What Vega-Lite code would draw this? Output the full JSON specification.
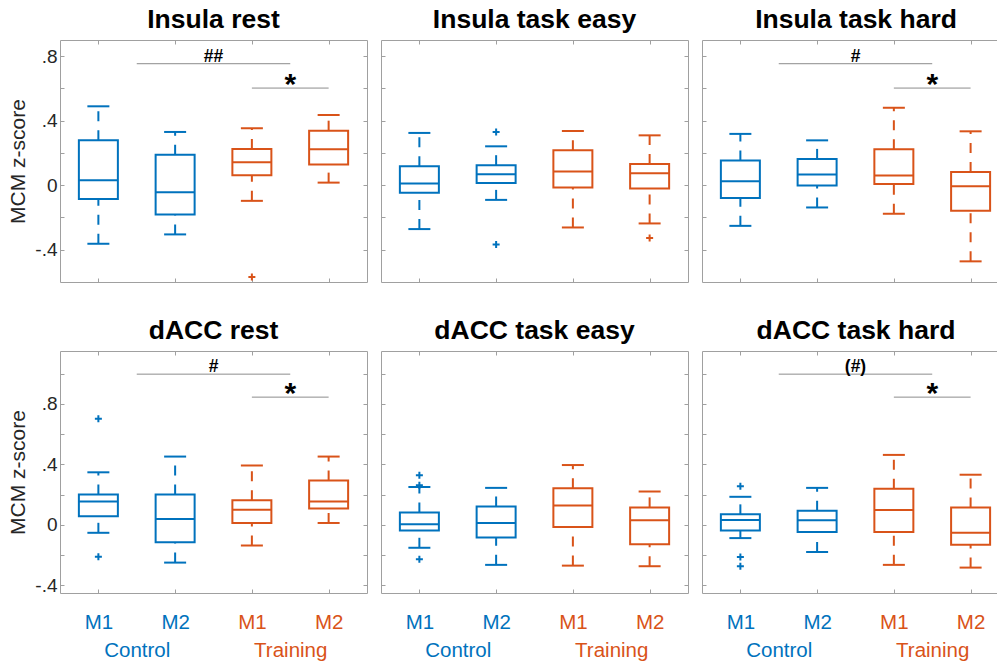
{
"$schema": "https://vega.github.io/schema/vega-lite/v6.json",
"padding": {"left": 7, "top": 6, "right": 0, "bottom": 0},
"background": "white",
"datasets": {
"boxes": [
{"panel":"Insula rest","group":"Control","tp":"M1","idx":1,"lo":-0.363,"q1":-0.085,"med":0.031,"q3":0.278,"hi":0.489},
{"panel":"Insula rest","group":"Control","tp":"M2","idx":2,"lo":-0.305,"q1":-0.181,"med":-0.043,"q3":0.188,"hi":0.330},
{"panel":"Insula rest","group":"Training","tp":"M1","idx":3,"lo":-0.097,"q1":0.062,"med":0.142,"q3":0.225,"hi":0.353},
{"panel":"Insula rest","group":"Training","tp":"M2","idx":4,"lo":0.016,"q1":0.128,"med":0.223,"q3":0.338,"hi":0.435},
{"panel":"Insula task easy","group":"Control","tp":"M1","idx":1,"lo":-0.272,"q1":-0.047,"med":0.010,"q3":0.118,"hi":0.324},
{"panel":"Insula task easy","group":"Control","tp":"M2","idx":2,"lo":-0.091,"q1":0.014,"med":0.068,"q3":0.124,"hi":0.241},
{"panel":"Insula task easy","group":"Training","tp":"M1","idx":3,"lo":-0.262,"q1":-0.014,"med":0.085,"q3":0.216,"hi":0.336},
{"panel":"Insula task easy","group":"Training","tp":"M2","idx":4,"lo":-0.237,"q1":-0.021,"med":0.074,"q3":0.132,"hi":0.309},
{"panel":"Insula task hard","group":"Control","tp":"M1","idx":1,"lo":-0.252,"q1":-0.080,"med":0.025,"q3":0.153,"hi":0.318},
{"panel":"Insula task hard","group":"Control","tp":"M2","idx":2,"lo":-0.138,"q1":-0.002,"med":0.066,"q3":0.163,"hi":0.278},
{"panel":"Insula task hard","group":"Training","tp":"M1","idx":3,"lo":-0.177,"q1":0.008,"med":0.060,"q3":0.223,"hi":0.480},
{"panel":"Insula task hard","group":"Training","tp":"M2","idx":4,"lo":-0.472,"q1":-0.159,"med":-0.006,"q3":0.082,"hi":0.334},
{"panel":"dACC rest","group":"Control","tp":"M1","idx":1,"lo":-0.052,"q1":0.057,"med":0.155,"q3":0.201,"hi":0.348},
{"panel":"dACC rest","group":"Control","tp":"M2","idx":2,"lo":-0.249,"q1":-0.114,"med":0.039,"q3":0.201,"hi":0.452},
{"panel":"dACC rest","group":"Training","tp":"M1","idx":3,"lo":-0.136,"q1":0.013,"med":0.101,"q3":0.164,"hi":0.393},
{"panel":"dACC rest","group":"Training","tp":"M2","idx":4,"lo":0.013,"q1":0.109,"med":0.155,"q3":0.293,"hi":0.452},
{"panel":"dACC task easy","group":"Control","tp":"M1","idx":1,"lo":-0.151,"q1":-0.037,"med":0.004,"q3":0.083,"hi":0.251},
{"panel":"dACC task easy","group":"Control","tp":"M2","idx":2,"lo":-0.264,"q1":-0.083,"med":0.013,"q3":0.122,"hi":0.245},
{"panel":"dACC task easy","group":"Training","tp":"M1","idx":3,"lo":-0.269,"q1":-0.013,"med":0.129,"q3":0.243,"hi":0.396},
{"panel":"dACC task easy","group":"Training","tp":"M2","idx":4,"lo":-0.273,"q1":-0.127,"med":0.031,"q3":0.116,"hi":0.221},
{"panel":"dACC task hard","group":"Control","tp":"M1","idx":1,"lo":-0.087,"q1":-0.037,"med":0.033,"q3":0.070,"hi":0.186},
{"panel":"dACC task hard","group":"Control","tp":"M2","idx":2,"lo":-0.179,"q1":-0.046,"med":0.031,"q3":0.094,"hi":0.245},
{"panel":"dACC task hard","group":"Training","tp":"M1","idx":3,"lo":-0.264,"q1":-0.046,"med":0.098,"q3":0.240,"hi":0.463},
{"panel":"dACC task hard","group":"Training","tp":"M2","idx":4,"lo":-0.282,"q1":-0.131,"med":-0.052,"q3":0.116,"hi":0.332}
],
"outliers": [
{"panel":"Insula rest","group":"Training","idx":3,"value":-0.569},
{"panel":"Insula task easy","group":"Control","idx":2,"value":0.330},
{"panel":"Insula task easy","group":"Control","idx":2,"value":-0.367},
{"panel":"Insula task easy","group":"Training","idx":4,"value":-0.328},
{"panel":"dACC rest","group":"Control","idx":1,"value":0.702},
{"panel":"dACC rest","group":"Control","idx":1,"value":-0.210},
{"panel":"dACC task easy","group":"Control","idx":1,"value":0.328},
{"panel":"dACC task easy","group":"Control","idx":1,"value":0.262},
{"panel":"dACC task easy","group":"Control","idx":1,"value":-0.227},
{"panel":"dACC task hard","group":"Control","idx":1,"value":0.256},
{"panel":"dACC task hard","group":"Control","idx":1,"value":-0.212},
{"panel":"dACC task hard","group":"Control","idx":1,"value":-0.273}
],
"sig": [
{"panel":"Insula rest","from":1.5,"to":3.5,"mid":2.5,"level":0.753,"label":"##"},
{"panel":"Insula rest","from":3,"to":4,"mid":3.5,"level":0.602,"label":"*"},
{"panel":"Insula task hard","from":1.5,"to":3.5,"mid":2.5,"level":0.753,"label":"#"},
{"panel":"Insula task hard","from":3,"to":4,"mid":3.5,"level":0.602,"label":"*"},
{"panel":"dACC rest","from":1.5,"to":3.5,"mid":2.5,"level":0.997,"label":"#"},
{"panel":"dACC rest","from":3,"to":4,"mid":3.5,"level":0.845,"label":"*"},
{"panel":"dACC task hard","from":1.5,"to":3.5,"mid":2.5,"level":0.997,"label":"(#)"},
{"panel":"dACC task hard","from":3,"to":4,"mid":3.5,"level":0.845,"label":"*"}
]
},
"spacing": 32,
"vconcat": [
{"spacing": 12, "hconcat": [
{"width":307,"height":242,"title":"Insula rest","resolve":{"axis":{"x":"independent","y":"independent"}},
"layer":[
{"data":{"name":"boxes"},"transform":[{"filter":"datum.panel == 'Insula rest'"}],"mark":{"type":"bar","orient":"vertical","width":39,"filled":false,"strokeWidth":2},
"encoding":{"x":{"field":"idx","type":"quantitative","scale":{"domain":[0.5,4.5],"nice":false,"zero":false,"padding":0},"axis":{"orient":"bottom","values":[1,2,3,4],"labels":false,"tickSize":-4,"title":null}},
"y":{"field":"q1","type":"quantitative","scale":{"domain":[-0.6,0.9],"nice":false,"zero":false},"axis":{"orient":"left","values":[-0.4,-0.2,0,0.2,0.4,0.6,0.8],"labelExpr":"round(datum.value*10) == 8 ? '.8' : round(datum.value*10) == 4 ? '.4' : round(datum.value*10) == 0 ? '0' : round(datum.value*10) == -4 ? '-.4' : ''","labelFontSize":19,"labelPadding":7,"labelOverlap":false,"tickSize":-4,"title":"MCM z-score","titleFontSize":21,"titlePadding":6}},
"y2":{"field":"q3"},
"color":{"field":"group","type":"nominal","scale":{"domain":["Control","Training"],"range":["#0072BD","#D95319"]},"legend":null}}},
{"data":{"name":"boxes"},"transform":[{"filter":"datum.panel == 'Insula rest'"}],"mark":{"type":"tick","orient":"horizontal","size":39,"thickness":2,"opacity":1},
"encoding":{"x":{"field":"idx","type":"quantitative","axis":{"orient":"top","values":[1,2,3,4],"labels":false,"tickSize":-4,"title":null}},
"y":{"field":"med","type":"quantitative","axis":{"orient":"right","values":[-0.4,-0.2,0,0.2,0.4,0.6,0.8],"labels":false,"tickSize":-4,"title":null}},
"color":{"field":"group","type":"nominal","legend":null}}},
{"data":{"name":"boxes"},"transform":[{"filter":"datum.panel == 'Insula rest'"}],"mark":{"type":"rule","strokeDash":[10,9],"strokeWidth":2},
"encoding":{"x":{"field":"idx","type":"quantitative","axis":null},"y":{"field":"q3","type":"quantitative","axis":null},"y2":{"field":"hi"},"color":{"field":"group","type":"nominal","legend":null}}},
{"data":{"name":"boxes"},"transform":[{"filter":"datum.panel == 'Insula rest'"}],"mark":{"type":"rule","strokeDash":[10,9],"strokeWidth":2},
"encoding":{"x":{"field":"idx","type":"quantitative","axis":null},"y":{"field":"lo","type":"quantitative","axis":null},"y2":{"field":"q1"},"color":{"field":"group","type":"nominal","legend":null}}},
{"data":{"name":"boxes"},"transform":[{"filter":"datum.panel == 'Insula rest'"}],"mark":{"type":"tick","orient":"horizontal","size":22,"thickness":2,"opacity":1},
"encoding":{"x":{"field":"idx","type":"quantitative","axis":null},"y":{"field":"hi","type":"quantitative","axis":null},"color":{"field":"group","type":"nominal","legend":null}}},
{"data":{"name":"boxes"},"transform":[{"filter":"datum.panel == 'Insula rest'"}],"mark":{"type":"tick","orient":"horizontal","size":22,"thickness":2,"opacity":1},
"encoding":{"x":{"field":"idx","type":"quantitative","axis":null},"y":{"field":"lo","type":"quantitative","axis":null},"color":{"field":"group","type":"nominal","legend":null}}},
{"data":{"name":"outliers"},"transform":[{"filter":"datum.panel == 'Insula rest'"}],"mark":{"type":"point","shape":"M-1,0H1M0,-1V1","size":49,"filled":false,"strokeWidth":2,"opacity":1},
"encoding":{"x":{"field":"idx","type":"quantitative","axis":null},"y":{"field":"value","type":"quantitative","axis":null},"color":{"field":"group","type":"nominal","legend":null}}},
{"data":{"name":"sig"},"transform":[{"filter":"datum.panel == 'Insula rest'"}],"mark":{"type":"rule","color":"#8c8c8c","strokeWidth":1},
"encoding":{"x":{"field":"from","type":"quantitative","axis":null},"x2":{"field":"to"},"y":{"field":"level","type":"quantitative","axis":null}}},
{"data":{"name":"sig"},"transform":[{"filter":"datum.panel == 'Insula rest' && datum.label == '*'"}],"mark":{"type":"text","fontSize":30,"fontWeight":"bold","baseline":"alphabetic","dy":6,"color":"#000000"},
"encoding":{"x":{"field":"mid","type":"quantitative","axis":null},"y":{"field":"level","type":"quantitative","axis":null},"text":{"field":"label"}}},
{"data":{"name":"sig"},"transform":[{"filter":"datum.panel == 'Insula rest' && datum.label != '*'"}],"mark":{"type":"text","fontSize":17.5,"fontWeight":"bold","baseline":"alphabetic","dy":-2,"color":"#000000"},
"encoding":{"x":{"field":"mid","type":"quantitative","axis":null},"y":{"field":"level","type":"quantitative","axis":null},"text":{"field":"label"}}}
]},
{"width":307,"height":242,"title":"Insula task easy","resolve":{"axis":{"x":"independent","y":"independent"}},
"layer":[
{"data":{"name":"boxes"},"transform":[{"filter":"datum.panel == 'Insula task easy'"}],"mark":{"type":"bar","orient":"vertical","width":39,"filled":false,"strokeWidth":2},
"encoding":{"x":{"field":"idx","type":"quantitative","scale":{"domain":[0.5,4.5],"nice":false,"zero":false,"padding":0},"axis":{"orient":"bottom","values":[1,2,3,4],"labels":false,"tickSize":-4,"title":null}},
"y":{"field":"q1","type":"quantitative","scale":{"domain":[-0.6,0.9],"nice":false,"zero":false},"axis":{"orient":"left","values":[-0.4,-0.2,0,0.2,0.4,0.6,0.8],"labels":false,"tickSize":-4,"title":null}},
"y2":{"field":"q3"},
"color":{"field":"group","type":"nominal","scale":{"domain":["Control","Training"],"range":["#0072BD","#D95319"]},"legend":null}}},
{"data":{"name":"boxes"},"transform":[{"filter":"datum.panel == 'Insula task easy'"}],"mark":{"type":"tick","orient":"horizontal","size":39,"thickness":2,"opacity":1},
"encoding":{"x":{"field":"idx","type":"quantitative","axis":{"orient":"top","values":[1,2,3,4],"labels":false,"tickSize":-4,"title":null}},
"y":{"field":"med","type":"quantitative","axis":{"orient":"right","values":[-0.4,-0.2,0,0.2,0.4,0.6,0.8],"labels":false,"tickSize":-4,"title":null}},
"color":{"field":"group","type":"nominal","legend":null}}},
{"data":{"name":"boxes"},"transform":[{"filter":"datum.panel == 'Insula task easy'"}],"mark":{"type":"rule","strokeDash":[10,9],"strokeWidth":2},
"encoding":{"x":{"field":"idx","type":"quantitative","axis":null},"y":{"field":"q3","type":"quantitative","axis":null},"y2":{"field":"hi"},"color":{"field":"group","type":"nominal","legend":null}}},
{"data":{"name":"boxes"},"transform":[{"filter":"datum.panel == 'Insula task easy'"}],"mark":{"type":"rule","strokeDash":[10,9],"strokeWidth":2},
"encoding":{"x":{"field":"idx","type":"quantitative","axis":null},"y":{"field":"lo","type":"quantitative","axis":null},"y2":{"field":"q1"},"color":{"field":"group","type":"nominal","legend":null}}},
{"data":{"name":"boxes"},"transform":[{"filter":"datum.panel == 'Insula task easy'"}],"mark":{"type":"tick","orient":"horizontal","size":22,"thickness":2,"opacity":1},
"encoding":{"x":{"field":"idx","type":"quantitative","axis":null},"y":{"field":"hi","type":"quantitative","axis":null},"color":{"field":"group","type":"nominal","legend":null}}},
{"data":{"name":"boxes"},"transform":[{"filter":"datum.panel == 'Insula task easy'"}],"mark":{"type":"tick","orient":"horizontal","size":22,"thickness":2,"opacity":1},
"encoding":{"x":{"field":"idx","type":"quantitative","axis":null},"y":{"field":"lo","type":"quantitative","axis":null},"color":{"field":"group","type":"nominal","legend":null}}},
{"data":{"name":"outliers"},"transform":[{"filter":"datum.panel == 'Insula task easy'"}],"mark":{"type":"point","shape":"M-1,0H1M0,-1V1","size":49,"filled":false,"strokeWidth":2,"opacity":1},
"encoding":{"x":{"field":"idx","type":"quantitative","axis":null},"y":{"field":"value","type":"quantitative","axis":null},"color":{"field":"group","type":"nominal","legend":null}}}
]},
{"width":296,"height":242,"title":{"text":"Insula task hard","dx":6},"resolve":{"axis":{"x":"independent","y":"independent"}},
"layer":[
{"data":{"name":"boxes"},"transform":[{"filter":"datum.panel == 'Insula task hard'"}],"mark":{"type":"bar","orient":"vertical","width":39,"filled":false,"strokeWidth":2},
"encoding":{"x":{"field":"idx","type":"quantitative","scale":{"domain":[0.5,4.357],"nice":false,"zero":false,"padding":0},"axis":{"orient":"bottom","values":[1,2,3,4],"labels":false,"tickSize":-4,"title":null}},
"y":{"field":"q1","type":"quantitative","scale":{"domain":[-0.6,0.9],"nice":false,"zero":false},"axis":{"orient":"left","values":[-0.4,-0.2,0,0.2,0.4,0.6,0.8],"labels":false,"tickSize":-4,"title":null}},
"y2":{"field":"q3"},
"color":{"field":"group","type":"nominal","scale":{"domain":["Control","Training"],"range":["#0072BD","#D95319"]},"legend":null}}},
{"data":{"name":"boxes"},"transform":[{"filter":"datum.panel == 'Insula task hard'"}],"mark":{"type":"tick","orient":"horizontal","size":39,"thickness":2,"opacity":1},
"encoding":{"x":{"field":"idx","type":"quantitative","axis":{"orient":"top","values":[1,2,3,4],"labels":false,"tickSize":-4,"title":null}},
"y":{"field":"med","type":"quantitative","axis":null},
"color":{"field":"group","type":"nominal","legend":null}}},
{"data":{"name":"boxes"},"transform":[{"filter":"datum.panel == 'Insula task hard'"}],"mark":{"type":"rule","strokeDash":[10,9],"strokeWidth":2},
"encoding":{"x":{"field":"idx","type":"quantitative","axis":null},"y":{"field":"q3","type":"quantitative","axis":null},"y2":{"field":"hi"},"color":{"field":"group","type":"nominal","legend":null}}},
{"data":{"name":"boxes"},"transform":[{"filter":"datum.panel == 'Insula task hard'"}],"mark":{"type":"rule","strokeDash":[10,9],"strokeWidth":2},
"encoding":{"x":{"field":"idx","type":"quantitative","axis":null},"y":{"field":"lo","type":"quantitative","axis":null},"y2":{"field":"q1"},"color":{"field":"group","type":"nominal","legend":null}}},
{"data":{"name":"boxes"},"transform":[{"filter":"datum.panel == 'Insula task hard'"}],"mark":{"type":"tick","orient":"horizontal","size":22,"thickness":2,"opacity":1},
"encoding":{"x":{"field":"idx","type":"quantitative","axis":null},"y":{"field":"hi","type":"quantitative","axis":null},"color":{"field":"group","type":"nominal","legend":null}}},
{"data":{"name":"boxes"},"transform":[{"filter":"datum.panel == 'Insula task hard'"}],"mark":{"type":"tick","orient":"horizontal","size":22,"thickness":2,"opacity":1},
"encoding":{"x":{"field":"idx","type":"quantitative","axis":null},"y":{"field":"lo","type":"quantitative","axis":null},"color":{"field":"group","type":"nominal","legend":null}}},
{"data":{"name":"sig"},"transform":[{"filter":"datum.panel == 'Insula task hard'"}],"mark":{"type":"rule","color":"#8c8c8c","strokeWidth":1},
"encoding":{"x":{"field":"from","type":"quantitative","axis":null},"x2":{"field":"to"},"y":{"field":"level","type":"quantitative","axis":null}}},
{"data":{"name":"sig"},"transform":[{"filter":"datum.panel == 'Insula task hard' && datum.label == '*'"}],"mark":{"type":"text","fontSize":30,"fontWeight":"bold","baseline":"alphabetic","dy":6,"color":"#000000"},
"encoding":{"x":{"field":"mid","type":"quantitative","axis":null},"y":{"field":"level","type":"quantitative","axis":null},"text":{"field":"label"}}},
{"data":{"name":"sig"},"transform":[{"filter":"datum.panel == 'Insula task hard' && datum.label != '*'"}],"mark":{"type":"text","fontSize":17.5,"fontWeight":"bold","baseline":"alphabetic","dy":-2,"color":"#000000"},
"encoding":{"x":{"field":"mid","type":"quantitative","axis":null},"y":{"field":"level","type":"quantitative","axis":null},"text":{"field":"label"}}}
]}
]},
{"spacing": 12, "hconcat": [
{"width":307,"height":242,"title":"dACC rest","resolve":{"axis":{"x":"independent","y":"independent"}},
"layer":[
{"data":{"name":"boxes"},"transform":[{"filter":"datum.panel == 'dACC rest'"}],"mark":{"type":"bar","orient":"vertical","width":39,"filled":false,"strokeWidth":2},
"encoding":{"x":{"field":"idx","type":"quantitative","scale":{"domain":[0.5,4.5],"nice":false,"zero":false,"padding":0},"axis":{"orient":"bottom","values":[1,1.5,2,3,3.5,4],"labelExpr":"datum.value == 1.5 ? ['', 'Control'] : datum.value == 3.5 ? ['', 'Training'] : (datum.value == 1 || datum.value == 3) ? 'M1' : 'M2'","labelColor":{"condition":{"test":"datum.value < 2.5","value":"#0072BD"},"value":"#D95319"},"tickOpacity":{"condition":{"test":"datum.value == 1.5 || datum.value == 3.5","value":0},"value":1},"labelFontSize":20.5,"labelLineHeight":28,"labelPadding":23,"labelOverlap":false,"labelFlush":false,"tickSize":-4,"title":null}},
"y":{"field":"q1","type":"quantitative","scale":{"domain":[-0.45,1.15],"nice":false,"zero":false},"axis":{"orient":"left","values":[-0.4,-0.2,0,0.2,0.4,0.6,0.8,1.0],"labelExpr":"round(datum.value*10) == 8 ? '.8' : round(datum.value*10) == 4 ? '.4' : round(datum.value*10) == 0 ? '0' : round(datum.value*10) == -4 ? '-.4' : ''","labelFontSize":19,"labelPadding":7,"labelOverlap":false,"tickSize":-4,"title":"MCM z-score","titleFontSize":21,"titlePadding":6}},
"y2":{"field":"q3"},
"color":{"field":"group","type":"nominal","scale":{"domain":["Control","Training"],"range":["#0072BD","#D95319"]},"legend":null}}},
{"data":{"name":"boxes"},"transform":[{"filter":"datum.panel == 'dACC rest'"}],"mark":{"type":"tick","orient":"horizontal","size":39,"thickness":2,"opacity":1},
"encoding":{"x":{"field":"idx","type":"quantitative","axis":{"orient":"top","values":[1,2,3,4],"labels":false,"tickSize":-4,"title":null}},
"y":{"field":"med","type":"quantitative","axis":{"orient":"right","values":[-0.4,-0.2,0,0.2,0.4,0.6,0.8,1.0],"labels":false,"tickSize":-4,"title":null}},
"color":{"field":"group","type":"nominal","legend":null}}},
{"data":{"name":"boxes"},"transform":[{"filter":"datum.panel == 'dACC rest'"}],"mark":{"type":"rule","strokeDash":[10,9],"strokeWidth":2},
"encoding":{"x":{"field":"idx","type":"quantitative","axis":null},"y":{"field":"q3","type":"quantitative","axis":null},"y2":{"field":"hi"},"color":{"field":"group","type":"nominal","legend":null}}},
{"data":{"name":"boxes"},"transform":[{"filter":"datum.panel == 'dACC rest'"}],"mark":{"type":"rule","strokeDash":[10,9],"strokeWidth":2},
"encoding":{"x":{"field":"idx","type":"quantitative","axis":null},"y":{"field":"lo","type":"quantitative","axis":null},"y2":{"field":"q1"},"color":{"field":"group","type":"nominal","legend":null}}},
{"data":{"name":"boxes"},"transform":[{"filter":"datum.panel == 'dACC rest'"}],"mark":{"type":"tick","orient":"horizontal","size":22,"thickness":2,"opacity":1},
"encoding":{"x":{"field":"idx","type":"quantitative","axis":null},"y":{"field":"hi","type":"quantitative","axis":null},"color":{"field":"group","type":"nominal","legend":null}}},
{"data":{"name":"boxes"},"transform":[{"filter":"datum.panel == 'dACC rest'"}],"mark":{"type":"tick","orient":"horizontal","size":22,"thickness":2,"opacity":1},
"encoding":{"x":{"field":"idx","type":"quantitative","axis":null},"y":{"field":"lo","type":"quantitative","axis":null},"color":{"field":"group","type":"nominal","legend":null}}},
{"data":{"name":"outliers"},"transform":[{"filter":"datum.panel == 'dACC rest'"}],"mark":{"type":"point","shape":"M-1,0H1M0,-1V1","size":49,"filled":false,"strokeWidth":2,"opacity":1},
"encoding":{"x":{"field":"idx","type":"quantitative","axis":null},"y":{"field":"value","type":"quantitative","axis":null},"color":{"field":"group","type":"nominal","legend":null}}},
{"data":{"name":"sig"},"transform":[{"filter":"datum.panel == 'dACC rest'"}],"mark":{"type":"rule","color":"#8c8c8c","strokeWidth":1},
"encoding":{"x":{"field":"from","type":"quantitative","axis":null},"x2":{"field":"to"},"y":{"field":"level","type":"quantitative","axis":null}}},
{"data":{"name":"sig"},"transform":[{"filter":"datum.panel == 'dACC rest' && datum.label == '*'"}],"mark":{"type":"text","fontSize":30,"fontWeight":"bold","baseline":"alphabetic","dy":6,"color":"#000000"},
"encoding":{"x":{"field":"mid","type":"quantitative","axis":null},"y":{"field":"level","type":"quantitative","axis":null},"text":{"field":"label"}}},
{"data":{"name":"sig"},"transform":[{"filter":"datum.panel == 'dACC rest' && datum.label != '*'"}],"mark":{"type":"text","fontSize":17.5,"fontWeight":"bold","baseline":"alphabetic","dy":-2,"color":"#000000"},
"encoding":{"x":{"field":"mid","type":"quantitative","axis":null},"y":{"field":"level","type":"quantitative","axis":null},"text":{"field":"label"}}}
]},
{"width":307,"height":242,"title":"dACC task easy","resolve":{"axis":{"x":"independent","y":"independent"}},
"layer":[
{"data":{"name":"boxes"},"transform":[{"filter":"datum.panel == 'dACC task easy'"}],"mark":{"type":"bar","orient":"vertical","width":39,"filled":false,"strokeWidth":2},
"encoding":{"x":{"field":"idx","type":"quantitative","scale":{"domain":[0.5,4.5],"nice":false,"zero":false,"padding":0},"axis":{"orient":"bottom","values":[1,1.5,2,3,3.5,4],"labelExpr":"datum.value == 1.5 ? ['', 'Control'] : datum.value == 3.5 ? ['', 'Training'] : (datum.value == 1 || datum.value == 3) ? 'M1' : 'M2'","labelColor":{"condition":{"test":"datum.value < 2.5","value":"#0072BD"},"value":"#D95319"},"tickOpacity":{"condition":{"test":"datum.value == 1.5 || datum.value == 3.5","value":0},"value":1},"labelFontSize":20.5,"labelLineHeight":28,"labelPadding":23,"labelOverlap":false,"labelFlush":false,"tickSize":-4,"title":null}},
"y":{"field":"q1","type":"quantitative","scale":{"domain":[-0.45,1.15],"nice":false,"zero":false},"axis":{"orient":"left","values":[-0.4,-0.2,0,0.2,0.4,0.6,0.8,1.0],"labels":false,"tickSize":-4,"title":null}},
"y2":{"field":"q3"},
"color":{"field":"group","type":"nominal","scale":{"domain":["Control","Training"],"range":["#0072BD","#D95319"]},"legend":null}}},
{"data":{"name":"boxes"},"transform":[{"filter":"datum.panel == 'dACC task easy'"}],"mark":{"type":"tick","orient":"horizontal","size":39,"thickness":2,"opacity":1},
"encoding":{"x":{"field":"idx","type":"quantitative","axis":{"orient":"top","values":[1,2,3,4],"labels":false,"tickSize":-4,"title":null}},
"y":{"field":"med","type":"quantitative","axis":{"orient":"right","values":[-0.4,-0.2,0,0.2,0.4,0.6,0.8,1.0],"labels":false,"tickSize":-4,"title":null}},
"color":{"field":"group","type":"nominal","legend":null}}},
{"data":{"name":"boxes"},"transform":[{"filter":"datum.panel == 'dACC task easy'"}],"mark":{"type":"rule","strokeDash":[10,9],"strokeWidth":2},
"encoding":{"x":{"field":"idx","type":"quantitative","axis":null},"y":{"field":"q3","type":"quantitative","axis":null},"y2":{"field":"hi"},"color":{"field":"group","type":"nominal","legend":null}}},
{"data":{"name":"boxes"},"transform":[{"filter":"datum.panel == 'dACC task easy'"}],"mark":{"type":"rule","strokeDash":[10,9],"strokeWidth":2},
"encoding":{"x":{"field":"idx","type":"quantitative","axis":null},"y":{"field":"lo","type":"quantitative","axis":null},"y2":{"field":"q1"},"color":{"field":"group","type":"nominal","legend":null}}},
{"data":{"name":"boxes"},"transform":[{"filter":"datum.panel == 'dACC task easy'"}],"mark":{"type":"tick","orient":"horizontal","size":22,"thickness":2,"opacity":1},
"encoding":{"x":{"field":"idx","type":"quantitative","axis":null},"y":{"field":"hi","type":"quantitative","axis":null},"color":{"field":"group","type":"nominal","legend":null}}},
{"data":{"name":"boxes"},"transform":[{"filter":"datum.panel == 'dACC task easy'"}],"mark":{"type":"tick","orient":"horizontal","size":22,"thickness":2,"opacity":1},
"encoding":{"x":{"field":"idx","type":"quantitative","axis":null},"y":{"field":"lo","type":"quantitative","axis":null},"color":{"field":"group","type":"nominal","legend":null}}},
{"data":{"name":"outliers"},"transform":[{"filter":"datum.panel == 'dACC task easy'"}],"mark":{"type":"point","shape":"M-1,0H1M0,-1V1","size":49,"filled":false,"strokeWidth":2,"opacity":1},
"encoding":{"x":{"field":"idx","type":"quantitative","axis":null},"y":{"field":"value","type":"quantitative","axis":null},"color":{"field":"group","type":"nominal","legend":null}}}
]},
{"width":296,"height":242,"title":{"text":"dACC task hard","dx":6},"resolve":{"axis":{"x":"independent","y":"independent"}},
"layer":[
{"data":{"name":"boxes"},"transform":[{"filter":"datum.panel == 'dACC task hard'"}],"mark":{"type":"bar","orient":"vertical","width":39,"filled":false,"strokeWidth":2},
"encoding":{"x":{"field":"idx","type":"quantitative","scale":{"domain":[0.5,4.357],"nice":false,"zero":false,"padding":0},"axis":{"orient":"bottom","values":[1,1.5,2,3,3.5,4],"labelExpr":"datum.value == 1.5 ? ['', 'Control'] : datum.value == 3.5 ? ['', 'Training'] : (datum.value == 1 || datum.value == 3) ? 'M1' : 'M2'","labelColor":{"condition":{"test":"datum.value < 2.5","value":"#0072BD"},"value":"#D95319"},"tickOpacity":{"condition":{"test":"datum.value == 1.5 || datum.value == 3.5","value":0},"value":1},"labelFontSize":20.5,"labelLineHeight":28,"labelPadding":23,"labelOverlap":false,"labelFlush":false,"tickSize":-4,"title":null}},
"y":{"field":"q1","type":"quantitative","scale":{"domain":[-0.45,1.15],"nice":false,"zero":false},"axis":{"orient":"left","values":[-0.4,-0.2,0,0.2,0.4,0.6,0.8,1.0],"labels":false,"tickSize":-4,"title":null}},
"y2":{"field":"q3"},
"color":{"field":"group","type":"nominal","scale":{"domain":["Control","Training"],"range":["#0072BD","#D95319"]},"legend":null}}},
{"data":{"name":"boxes"},"transform":[{"filter":"datum.panel == 'dACC task hard'"}],"mark":{"type":"tick","orient":"horizontal","size":39,"thickness":2,"opacity":1},
"encoding":{"x":{"field":"idx","type":"quantitative","axis":{"orient":"top","values":[1,2,3,4],"labels":false,"tickSize":-4,"title":null}},
"y":{"field":"med","type":"quantitative","axis":null},
"color":{"field":"group","type":"nominal","legend":null}}},
{"data":{"name":"boxes"},"transform":[{"filter":"datum.panel == 'dACC task hard'"}],"mark":{"type":"rule","strokeDash":[10,9],"strokeWidth":2},
"encoding":{"x":{"field":"idx","type":"quantitative","axis":null},"y":{"field":"q3","type":"quantitative","axis":null},"y2":{"field":"hi"},"color":{"field":"group","type":"nominal","legend":null}}},
{"data":{"name":"boxes"},"transform":[{"filter":"datum.panel == 'dACC task hard'"}],"mark":{"type":"rule","strokeDash":[10,9],"strokeWidth":2},
"encoding":{"x":{"field":"idx","type":"quantitative","axis":null},"y":{"field":"lo","type":"quantitative","axis":null},"y2":{"field":"q1"},"color":{"field":"group","type":"nominal","legend":null}}},
{"data":{"name":"boxes"},"transform":[{"filter":"datum.panel == 'dACC task hard'"}],"mark":{"type":"tick","orient":"horizontal","size":22,"thickness":2,"opacity":1},
"encoding":{"x":{"field":"idx","type":"quantitative","axis":null},"y":{"field":"hi","type":"quantitative","axis":null},"color":{"field":"group","type":"nominal","legend":null}}},
{"data":{"name":"boxes"},"transform":[{"filter":"datum.panel == 'dACC task hard'"}],"mark":{"type":"tick","orient":"horizontal","size":22,"thickness":2,"opacity":1},
"encoding":{"x":{"field":"idx","type":"quantitative","axis":null},"y":{"field":"lo","type":"quantitative","axis":null},"color":{"field":"group","type":"nominal","legend":null}}},
{"data":{"name":"outliers"},"transform":[{"filter":"datum.panel == 'dACC task hard'"}],"mark":{"type":"point","shape":"M-1,0H1M0,-1V1","size":49,"filled":false,"strokeWidth":2,"opacity":1},
"encoding":{"x":{"field":"idx","type":"quantitative","axis":null},"y":{"field":"value","type":"quantitative","axis":null},"color":{"field":"group","type":"nominal","legend":null}}},
{"data":{"name":"sig"},"transform":[{"filter":"datum.panel == 'dACC task hard'"}],"mark":{"type":"rule","color":"#8c8c8c","strokeWidth":1},
"encoding":{"x":{"field":"from","type":"quantitative","axis":null},"x2":{"field":"to"},"y":{"field":"level","type":"quantitative","axis":null}}},
{"data":{"name":"sig"},"transform":[{"filter":"datum.panel == 'dACC task hard' && datum.label == '*'"}],"mark":{"type":"text","fontSize":30,"fontWeight":"bold","baseline":"alphabetic","dy":6,"color":"#000000"},
"encoding":{"x":{"field":"mid","type":"quantitative","axis":null},"y":{"field":"level","type":"quantitative","axis":null},"text":{"field":"label"}}},
{"data":{"name":"sig"},"transform":[{"filter":"datum.panel == 'dACC task hard' && datum.label != '*'"}],"mark":{"type":"text","fontSize":17.5,"fontWeight":"bold","baseline":"alphabetic","dy":-2,"color":"#000000"},
"encoding":{"x":{"field":"mid","type":"quantitative","axis":null},"y":{"field":"level","type":"quantitative","axis":null},"text":{"field":"label"}}}
]}
]}
],
"config": {
"font": "Liberation Sans",
"view": {"stroke": null},
"axis": {"grid": false, "domainColor": "#a0a0a0", "tickColor": "#a0a0a0", "domainWidth": 1, "tickWidth": 1, "labelColor": "#262626", "labelFont": "Liberation Sans", "titleColor": "#262626", "titleFont": "Liberation Sans", "titleFontWeight": "normal"},
"title": {"fontSize": 26.5, "fontWeight": "bold", "color": "#000000", "baseline": "alphabetic", "offset": 6.5, "anchor": "middle", "font": "Liberation Sans"}
}
}
